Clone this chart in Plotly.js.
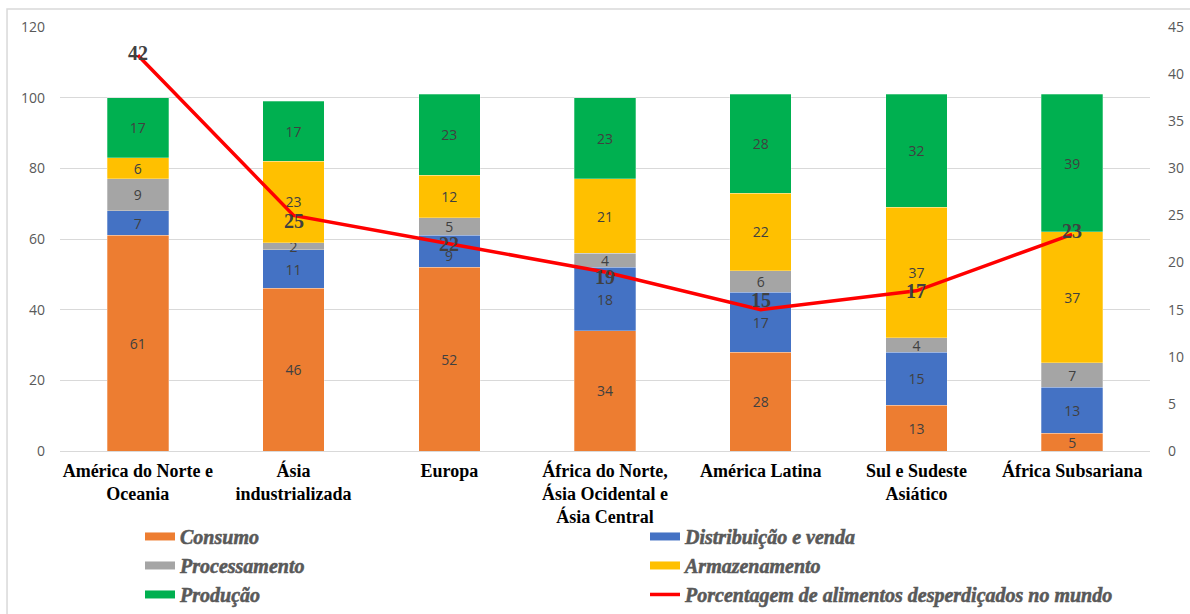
<!DOCTYPE html>
<html>
<head>
<meta charset="utf-8">
<script src="https://cdn.plot.ly/plotly-3.0.1.min.js"></script>
<style>
  html, body { margin: 0; padding: 0; background: #ffffff; }
  #chart { width: 1190px; height: 614px; }
  /* heavier strokes for the italic legend captions */
  #chart .legendtext { stroke: #595959; stroke-width: 0.55px; }
</style>
</head>
<body>
<div id="chart"></div>
<script>
// Regions (categories on the x axis)
const regioes = [
  'América do Norte e<br>Oceania',
  'Ásia<br>industrializada',
  'Europa',
  'África do Norte,<br>Ásia Ocidental e<br>Ásia Central',
  'América Latina',
  'Sul e Sudeste<br>Asiático',
  'África Subsariana'
];

// Share of losses per stage of the food chain (%)
const consumo        = [61, 46, 52, 34, 28, 13, 5];
const distribuicao   = [7, 11, 9, 18, 17, 15, 13];
const processamento  = [9, 2, 5, 4, 6, 4, 7];
const armazenamento  = [6, 23, 12, 21, 22, 37, 37];
const producao       = [17, 17, 23, 23, 28, 32, 39];

// Percentage of food wasted in the world (right axis)
const desperdicio    = [42, 25, 22, 19, 15, 17, 23];

// Series names and colours
const nomes = ['Consumo', 'Distribuição e venda', 'Processamento', 'Armazenamento', 'Produção'];
const nomeLinha = 'Porcentagem de alimentos desperdiçados no mundo';
const cores = ['#ED7D31', '#4472C4', '#A5A5A5', '#FFC000', '#00B050'];
const corLinha = '#FF0000';

// Axis ticks
const ticksEsq = [0, 20, 40, 60, 80, 100, 120];
const ticksDir = [0, 5, 10, 15, 20, 25, 30, 35, 40, 45];

// Small vertical nudges for the line's value labels (px)
const deslocLabel = [2, -6, 0, -5, 10, 0, 3];

const series = [consumo, distribuicao, processamento, armazenamento, producao];

// Segment labels that sit low in their bar so the line label above stays readable
// (series index, region index)
const labelsBaixos = [[1, 2]];

const fonteSerif = 'Liberation Serif, Times New Roman, serif';
const fonteSans = 'Open Sans, sans-serif';
const fonteBarra = { family: fonteSans, size: 14, color: '#404040' };

const traces = [];

// Stacked bars
series.forEach((vals, i) => {
  const txt = vals.map((v, j) =>
    labelsBaixos.some(([s, r]) => s === i && r === j) ? '' : String(v));
  traces.push({
    type: 'bar',
    x: regioes,
    y: vals,
    name: nomes[i],
    legendgroup: nomes[i],
    showlegend: false,
    marker: { color: cores[i], line: { color: 'rgba(255,255,255,0.35)', width: 0.8 } },
    text: txt,
    texttemplate: '%{text}',
    textposition: 'inside',
    insidetextanchor: 'middle',
    constraintext: 'none',
    textangle: 0,
    textfont: fonteBarra,
    hoverinfo: 'name+y'
  });
});

// Legend swatches for the bar series (wide flat bars)
series.forEach((vals, i) => {
  traces.push({
    type: 'scatter',
    mode: 'lines',
    x: [null],
    y: [null],
    name: nomes[i],
    legendgroup: nomes[i],
    showlegend: true,
    line: { color: cores[i], width: 8 },
    hoverinfo: 'skip'
  });
});

// Waste percentage line on the secondary axis
traces.push({
  type: 'scatter',
  mode: 'lines',
  x: regioes,
  y: desperdicio,
  yaxis: 'y2',
  name: nomeLinha,
  line: { color: corLinha, width: 3.5 },
  showlegend: true,
  hoverinfo: 'y'
});

// Value labels for the line
const anotacoes = desperdicio.map((v, i) => ({
  x: regioes[i],
  y: v,
  xref: 'x',
  yref: 'y2',
  text: '<b>' + v + '</b>',
  showarrow: false,
  yshift: deslocLabel[i],
  font: { family: fonteSerif, size: 20, color: '#404040' }
}));

// Low-placed segment labels
labelsBaixos.forEach(([s, r]) => {
  let base = 0;
  for (let k = 0; k < s; k++) base += series[k][r];
  anotacoes.push({
    x: regioes[r],
    y: base,
    xref: 'x',
    yref: 'y',
    yanchor: 'bottom',
    yshift: 0,
    text: String(series[s][r]),
    showarrow: false,
    font: fonteBarra
  });
});

const layout = {
  width: 1190,
  height: 614,
  margin: { l: 60, r: 40, t: 27, b: 163, autoexpand: false },
  paper_bgcolor: '#ffffff',
  plot_bgcolor: '#ffffff',
  barmode: 'stack',
  bargap: 0.605,
  showlegend: true,
  xaxis: {
    type: 'category',
    showgrid: false,
    showline: true,
    linecolor: '#D9D9D9',
    linewidth: 1,
    ticks: '',
    ticklabelstandoff: 3,
    tickfont: { family: fonteSerif, size: 18, color: '#000000', weight: 'bold' },
    fixedrange: true
  },
  yaxis: {
    range: [0, 120],
    tickvals: ticksEsq,
    showgrid: true,
    gridcolor: '#D9D9D9',
    gridwidth: 1,
    zeroline: false,
    showline: false,
    ticks: '',
    ticklabelstandoff: 14,
    tickfont: { family: fonteSans, size: 14, color: '#595959' },
    fixedrange: true
  },
  yaxis2: {
    overlaying: 'y',
    side: 'right',
    range: [0, 45],
    tickvals: ticksDir,
    showgrid: false,
    zeroline: false,
    showline: false,
    ticks: '',
    ticklabelstandoff: 17,
    tickfont: { family: fonteSans, size: 14, color: '#595959' },
    fixedrange: true
  },
  legend: {
    orientation: 'h',
    x: 0.0734,
    xanchor: 'left',
    y: -0.1556,
    yanchor: 'top',
    traceorder: 'normal',
    entrywidth: 460,
    entrywidthmode: 'pixels',
    bgcolor: 'rgba(0,0,0,0)',
    font: { family: fonteSerif, size: 20, color: '#595959', weight: 'bold', style: 'italic' }
  },
  annotations: anotacoes,
  shapes: [{
    type: 'rect',
    xref: 'paper', yref: 'paper',
    x0: -0.0486, x1: 1.2,
    y0: -1, y1: 1.0425,
    line: { color: '#D9D9D9', width: 1.5 },
    fillcolor: 'rgba(0,0,0,0)',
    layer: 'below'
  }]
};

Plotly.newPlot('chart', traces, layout, { displayModeBar: false, staticPlot: true });
</script>
</body>
</html>
